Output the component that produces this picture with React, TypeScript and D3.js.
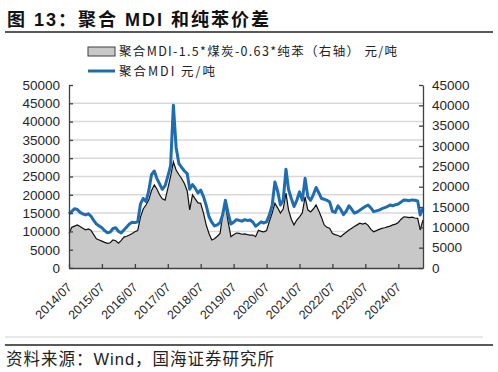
import * as d3 from 'd3';
import { useEffect, useRef } from 'react';

// monthly readings, first point = 2014/07
const startMonth = new Date(2014, 6, 1);

// 聚合MDI 元/吨 (left axis)
const mdiPrice = [
  14800, 15500, 16200, 16000, 15200, 14800, 14500, 14800, 14200, 13000, 12000, 11500,
  11000, 10200, 9600, 9800, 10800, 11000, 10000, 9600, 10400, 11200, 12000, 12500,
  12400, 12600, 17500, 19000, 18200, 21000, 25500, 26500, 24500, 23000, 21500, 22500,
  25000, 28000, 44500, 33000, 28500, 27500, 26500, 25800, 21500, 22800, 21800, 20500,
  21300, 19500, 17000, 14000, 12500, 11500, 11800, 12400, 14500, 18500, 15000, 12000,
  12500, 13200, 13000, 12800, 13200, 13000, 13100, 12500, 11400, 12000, 12600, 12300,
  12600, 14500, 17200, 23500, 21000, 17200, 18500, 27000, 21500, 19000, 16800, 18500,
  20800, 18500, 24500, 19500, 18500, 20000, 22000, 20500, 19000, 18800, 18500, 18000,
  15500, 15200, 17000, 16000, 14600, 15500, 17000, 16000, 15000, 15300, 15800, 16300,
  16800, 17200, 16400, 15400, 15600, 15800, 16200, 16500, 16800, 17200, 17000, 17300,
  17500, 18000, 18600, 18500, 18400, 18600, 18500, 18300, 14500, 16400,
];

// 聚合MDI-1.5*煤炭-0.63*纯苯 (right axis)
const mdiSpread = [
  8500, 10000, 10300, 10600, 10200, 9800, 9400, 9600, 9300, 8200, 7200, 6900,
  6600, 6300, 6070, 6200, 6900, 6700, 6100, 6800, 7600, 7800, 8100, 8500,
  8900, 9200, 12500, 14500, 15500, 16700, 19000, 20400, 19500, 18000, 17000, 16700,
  19500, 22500, 26100, 24100, 23000, 22000, 20800, 19000, 14300, 18000, 17000, 16000,
  15900, 13500, 10500, 8500, 6900, 7200, 7800, 8500, 13000, 15500, 11400, 7700,
  8200, 8600, 8500, 8300, 8400, 8200, 8100, 8100, 7700, 9300, 9000, 8900,
  9200, 11500, 13500, 15900, 14800, 13500, 14500, 18400, 14300, 12000, 10600, 11800,
  12600, 13500, 17500, 14300, 13800, 14500, 15500, 14000, 12500, 10600, 10000, 9800,
  8500, 8200, 8000, 7700, 8300, 8800, 9350, 9800, 10200, 10600, 11000, 10800,
  11000, 10500, 9500, 8900, 9200, 9500, 9750, 9900, 10100, 10300, 10600, 10800,
  11200, 12000, 12600, 12500, 12400, 12500, 12300, 12200, 9350, 11800,
];

const xTickLabels = [
  '2014/07', '2015/07', '2016/07', '2017/07', '2018/07', '2019/07',
  '2020/07', '2021/07', '2022/07', '2023/07', '2024/07',
];
const leftTicks = [0, 5000, 10000, 15000, 20000, 25000, 30000, 35000, 40000, 45000, 50000];
const rightTicks = [0, 5000, 10000, 15000, 20000, 25000, 30000, 35000, 40000, 45000];

const spreadLegend = '聚合MDI-1.5*煤炭-0.63*纯苯（右轴） 元/吨';
const mdiLegend = '聚合MDI 元/吨';

function App() {
  const svgElement = useRef<SVGSVGElement | null>(null);

  useEffect(() => {
    if (!svgElement.current) return;
    const svg = d3.select(svgElement.current);
    svg.selectAll('*').remove();

    const left = 69;
    const right = 423;
    const top = 85;
    const bottom = 268;
    const axisColor = '#404040';
    const labelFont = "'Liberation Sans', Arial, sans-serif";
    const cjkFont = "'Liberation Sans', 'Noto Sans CJK SC', sans-serif";

    const dates = mdiPrice.map((_, i) => d3.timeMonth.offset(startMonth, i));
    const parseMonth = d3.timeParse('%Y/%m');
    const tickDates = xTickLabels.map((s) => parseMonth(s) as Date);

    const x = d3.scaleTime().domain([dates[0], dates[dates.length - 1]]).range([left, right]);
    const yLeft = d3.scaleLinear().domain([0, 50000]).range([bottom, top]);
    const yRight = d3.scaleLinear().domain([0, 45000]).range([bottom, top]);

    // title
    svg
      .append('text')
      .attr('x', 7)
      .attr('y', 26)
      .attr('font-family', cjkFont)
      .attr('font-weight', 'bold')
      .attr('font-size', 18)
      .attr('letter-spacing', 2)
      .attr('fill', '#111')
      .text('图 13：聚合 MDI 和纯苯价差');
    svg.append('line').attr('x1', 5).attr('x2', 493).attr('y1', 32).attr('y2', 32)
      .attr('stroke', '#595959').attr('stroke-width', 2);

    // legend
    const legend = svg.append('g').attr('font-family', "'Noto Sans CJK SC', sans-serif")
      .attr('font-size', 12.5).attr('fill', '#222');
    legend.append('rect').attr('x', 88).attr('y', 47).attr('width', 27).attr('height', 9)
      .attr('fill', '#c8c8c8').attr('stroke', axisColor).attr('stroke-width', 1);
    legend.append('text').attr('x', 119).attr('y', 56).attr('textLength', 278)
      .attr('lengthAdjust', 'spacing').text(spreadLegend);
    legend.append('line').attr('x1', 88).attr('x2', 115).attr('y1', 71).attr('y2', 71)
      .attr('stroke', '#1f6db0').attr('stroke-width', 3);
    legend.append('text').attr('x', 119).attr('y', 75.5).attr('textLength', 96)
      .attr('lengthAdjust', 'spacing').text(mdiLegend);

    // grid
    svg.append('g').selectAll('line')
      .data(leftTicks.filter((t) => t > 0 && t < 50000))
      .join('line')
      .attr('x1', left).attr('x2', right)
      .attr('y1', (d) => yLeft(d)).attr('y2', (d) => yLeft(d))
      .attr('stroke', '#d9d9d9').attr('stroke-width', 1.5);

    // spread area + outline
    const area = d3.area<number>()
      .x((_, i) => x(dates[i]))
      .y0(bottom)
      .y1((d) => yRight(d));
    svg.append('path').attr('d', area(mdiSpread) as string).attr('fill', '#c8c8c8');
    const spreadLine = d3.line<number>().x((_, i) => x(dates[i])).y((d) => yRight(d));
    svg.append('path').attr('d', spreadLine(mdiSpread) as string)
      .attr('fill', 'none').attr('stroke', '#111').attr('stroke-width', 1.2);

    // MDI price
    const priceLine = d3.line<number>().x((_, i) => x(dates[i])).y((d) => yLeft(d));
    svg.append('path').attr('d', priceLine(mdiPrice) as string)
      .attr('fill', 'none').attr('stroke', '#1f6db0').attr('stroke-width', 3)
      .attr('stroke-linejoin', 'round');

    // axes
    const styleAxis = (g: d3.Selection<SVGGElement, unknown, null, undefined>) => {
      g.select('.domain').attr('stroke', axisColor).attr('stroke-width', 1.3);
      g.selectAll('.tick line').attr('stroke', axisColor).attr('stroke-width', 1.3);
      g.selectAll('.tick text').attr('fill', '#262626');
      g.attr('font-family', labelFont).attr('font-size', 13.5);
    };
    const plain = (d: d3.NumberValue) => String(d);

    svg.append('g').attr('transform', `translate(${left},0)`)
      .call(d3.axisLeft(yLeft).tickValues(leftTicks).tickFormat(plain)
        .tickSizeInner(-4).tickSizeOuter(0).tickPadding(9))
      .call(styleAxis);

    svg.append('g').attr('transform', `translate(${right},0)`)
      .call(d3.axisRight(yRight).tickValues(rightTicks).tickFormat(plain)
        .tickSizeInner(-4).tickSizeOuter(0).tickPadding(9))
      .call(styleAxis);

    const xAxis = svg.append('g').attr('transform', `translate(0,${bottom})`)
      .call(d3.axisBottom(x).tickValues(tickDates).tickSizeInner(-4).tickSizeOuter(0)
        .tickFormat((d) => d3.timeFormat('%Y/%m')(d as Date)))
      .call(styleAxis);
    xAxis.attr('font-size', 12.5);
    xAxis.selectAll('.tick text')
      .attr('x', 0).attr('y', 0).attr('dy', 0)
      .attr('text-anchor', 'end')
      .attr('transform', 'translate(3,20) rotate(-45)');

    // footer
    svg.append('line').attr('x1', 5).attr('x2', 483).attr('y1', 337).attr('y2', 337)
      .attr('stroke', '#d0d0d0').attr('stroke-width', 1);
    svg.append('line').attr('x1', 5).attr('x2', 493).attr('y1', 345).attr('y2', 345)
      .attr('stroke', '#595959').attr('stroke-width', 2);
    svg.append('text').attr('x', 6).attr('y', 365)
      .attr('font-family', cjkFont).attr('font-size', 16.5).attr('letter-spacing', 1)
      .attr('fill', '#222')
      .text('资料来源：Wind，国海证券研究所');
  }, []);

  return (
    <svg
      ref={svgElement}
      width={498}
      height={372}
      style={{ position: 'absolute', left: 0, top: 0, background: '#fff' }}
    />
  );
}

export default App;
